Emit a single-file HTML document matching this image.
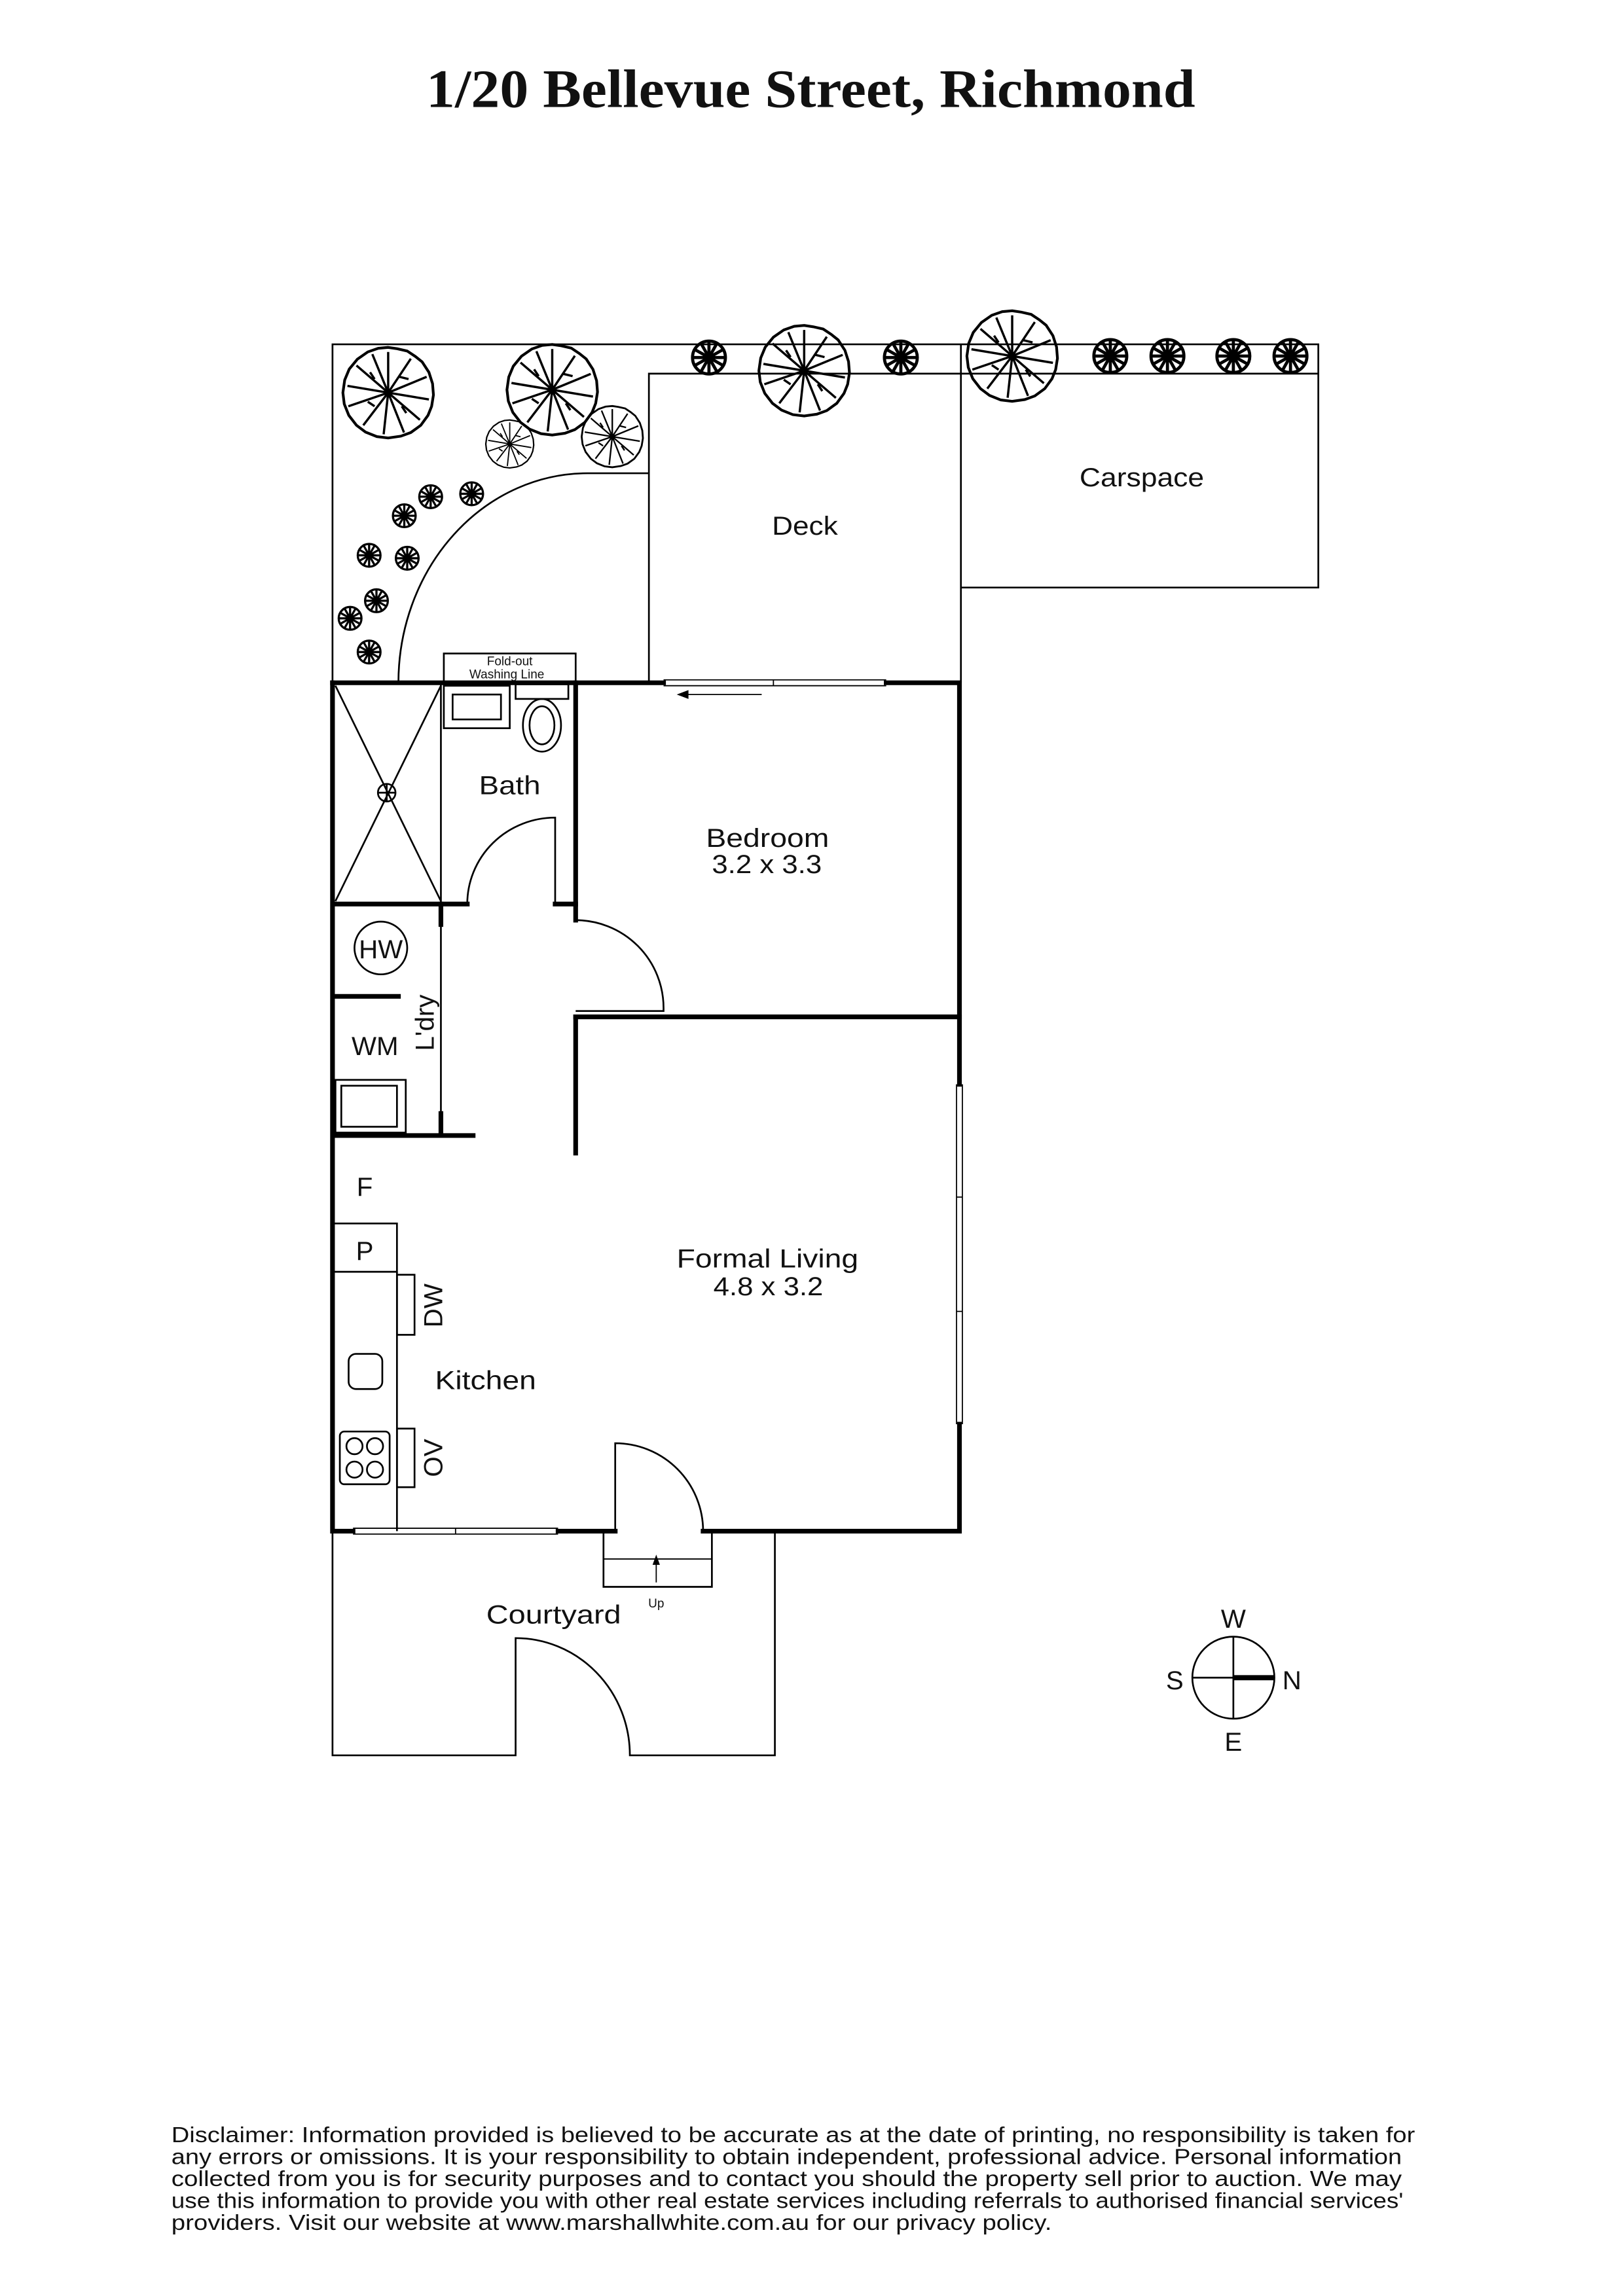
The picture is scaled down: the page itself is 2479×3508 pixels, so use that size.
<!DOCTYPE html>
<html><head><meta charset="utf-8"><style>
html,body{margin:0;padding:0;background:#fff;}
svg{display:block;}
text{font-family:"Liberation Sans",sans-serif;fill:#111;}
</style></head><body>
<svg width="2479" height="3508" viewBox="0 0 1108 1567" preserveAspectRatio="none" xmlns="http://www.w3.org/2000/svg">
<defs>
<symbol id="tr" viewBox="-1.1 -1.1 2.2 2.2">
<path d="M0,-1 L0.2,-0.97 0.42,-0.92 0.6,-0.8 0.75,-0.68 0.9,-0.45 0.98,-0.2 1,0.05 0.96,0.3 0.88,0.5 0.72,0.72 0.5,0.88 0.28,0.96 0,1 -0.25,0.97 -0.5,0.87 -0.7,0.72 -0.87,0.5 -0.97,0.25 -1,0 -0.96,-0.28 -0.86,-0.52 -0.68,-0.74 -0.45,-0.9 -0.22,-0.98Z" fill="none" stroke="#000" stroke-width="0.06"/>
<path d="M0,0 L0,-0.9 M0,0 L0.5,-0.75 M0,0 L0.85,-0.35 M0,0 L0.9,0.15 M0,0 L0.7,0.6 M0,0 L0.35,0.88 M0,0 L-0.1,0.92 M0,0 L-0.55,0.72 M0,0 L-0.88,0.3 M0,0 L-0.9,-0.15 M0,0 L-0.7,-0.6 M0,0 L-0.35,-0.85 M0.25,-0.35 L0.45,-0.3 M-0.3,0.3 L-0.45,0.2 M0.3,0.3 L0.4,0.45 M-0.3,-0.3 L-0.4,-0.45" fill="none" stroke="#000" stroke-width="0.05"/>
</symbol>
<symbol id="sh" viewBox="-1.1 -1.1 2.2 2.2">
<circle r="0.95" fill="none" stroke="#000" stroke-width="0.18"/>
<path d="M0,0 L0,-0.9 M0,0 L0.8,-0.45 M0,0 L0.8,0.45 M0,0 L0,0.9 M0,0 L-0.8,0.45 M0,0 L-0.8,-0.45 M0,0 L0.45,-0.8 M0,0 L0.9,0 M0,0 L0.45,0.8 M0,0 L-0.45,0.8 M0,0 L-0.9,0 M0,0 L-0.45,-0.8" stroke="#000" stroke-width="0.18"/>
</symbol>
</defs>

<text x="291" y="73" textLength="525" lengthAdjust="spacingAndGlyphs" font-weight="bold" font-size="37" style="font-family:'Liberation Serif',serif">1/20 Bellevue Street, Richmond</text>

<g fill="none" stroke="#000" stroke-width="1.2">
<path d="M227,466 V235 H900 V401 H656"/>
<path d="M443,466 V255 H900"/>
<path d="M656,235 V466"/>
<path d="M272,466 A129,143 0 0 1 401,323 H443"/>
<rect x="303" y="446" width="90" height="20"/>
<path d="M229,468 L301,615 M301,468 L229,615"/>
<circle cx="264" cy="541" r="6"/>
<path d="M258,541 H270 M264,535 V547"/>
<rect x="303" y="468" width="45" height="29"/>
<rect x="309" y="474" width="33" height="17"/>
<rect x="352" y="467" width="36" height="10"/>
<ellipse cx="370" cy="495" rx="13" ry="18"/>
<ellipse cx="370" cy="495" rx="8.5" ry="13"/>
<path d="M301,466 V775"/>
<path d="M379,617 V558 A60,59 0 0 0 319,617"/>
<circle cx="260" cy="647" r="18"/>
<rect x="229" y="737" width="48" height="36"/>
<rect x="233" y="741" width="38" height="28"/>
<path d="M393,628 A60,60 0 0 1 453,688 V690 H393"/>
<rect x="227" y="835" width="44" height="33"/>
<path d="M271,868 V1045"/>
<path d="M227,868 H271"/>
<rect x="271" y="870" width="12" height="41"/>
<rect x="271" y="975" width="12" height="40"/>
<rect x="238" y="924" width="23" height="24" rx="5"/>
<rect x="232" y="977" width="34" height="36" rx="3"/>
<circle cx="242" cy="987" r="5.5"/><circle cx="256" cy="987" r="5.5"/>
<circle cx="242" cy="1003" r="5.5"/><circle cx="256" cy="1003" r="5.5"/>
<path d="M420,1045 V985 A60,60 0 0 1 480,1045"/>
<path d="M412,1045 V1083 H486 V1045"/>
<path d="M412,1064 H486" stroke-width="0.8"/>
<path d="M227,1045 V1198 H352 V1118 A78,80 0 0 1 430,1198 H529 V1045"/>
<circle cx="842" cy="1145" r="28"/>
<path d="M842,1117 V1173 M814,1145 H842"/>
</g>
<path d="M842,1145 H870" stroke="#000" stroke-width="3.5"/>

<g fill="none" stroke="#000" stroke-width="3.2" stroke-linecap="square">
<path d="M227,466 V1045 H241"/>
<path d="M381,1045 H420"/>
<path d="M480,1045 H655 V972"/>
<path d="M655,740 V466 H605"/>
<path d="M453,466 H227"/>
<path d="M393,466 V617 H379"/>
<path d="M319,617 H229"/>
<path d="M393,617 V628"/>
<path d="M393,694 H655"/>
<path d="M393,694 V787"/>
<path d="M229,680 H272"/>
<path d="M229,775 H323"/>
<path d="M301,617 V631 M301,760 V775"/>
</g>
<g fill="none" stroke="#000" stroke-width="0.8">
<path d="M453,464 H605 M453,468 H605 M528,464 V468"/>
<path d="M241,1043 H381 M241,1047 H381 M311,1043 V1047"/>
<path d="M653,740 V972 M657,740 V972 M653,817 H657 M653,895 H657"/>
<path d="M520,474 H468"/>
<path d="M448,1080 V1064"/>
</g>
<path d="M462,474 L470,471 L470,477Z" fill="#000"/>
<path d="M448,1061 L445.5,1068 L450.5,1068Z" fill="#000"/>

<use href="#tr" x="231" y="234" width="68" height="68"/>
<use href="#tr" x="343" y="232" width="68" height="68"/>
<use href="#tr" x="330" y="285" width="36" height="36"/>
<use href="#tr" x="395" y="275" width="46" height="46"/>
<use href="#tr" x="515" y="219" width="68" height="68"/>
<use href="#tr" x="657" y="209" width="68" height="68"/>
<use href="#sh" x="471" y="231" width="26" height="26"/>
<use href="#sh" x="602" y="231" width="26" height="26"/>
<use href="#sh" x="745" y="230" width="26" height="26"/>
<use href="#sh" x="784" y="230" width="26" height="26"/>
<use href="#sh" x="829" y="230" width="26" height="26"/>
<use href="#sh" x="868" y="230" width="26" height="26"/>
<use href="#sh" x="313" y="328" width="18" height="18"/>
<use href="#sh" x="285" y="330" width="18" height="18"/>
<use href="#sh" x="267" y="343" width="18" height="18"/>
<use href="#sh" x="243" y="370" width="18" height="18"/>
<use href="#sh" x="269" y="372" width="18" height="18"/>
<use href="#sh" x="248" y="401" width="18" height="18"/>
<use href="#sh" x="230" y="413" width="18" height="18"/>
<use href="#sh" x="243" y="436" width="18" height="18"/>

<g font-size="18">
<text x="527" y="365" textLength="45" lengthAdjust="spacingAndGlyphs">Deck</text>
<text x="737" y="332" textLength="85" lengthAdjust="spacingAndGlyphs">Carspace</text>
<text x="327" y="542" textLength="42" lengthAdjust="spacingAndGlyphs">Bath</text>
<text x="482" y="578" textLength="84" lengthAdjust="spacingAndGlyphs">Bedroom</text>
<text x="486" y="596" textLength="75" lengthAdjust="spacingAndGlyphs">3.2 x 3.3</text>
<text x="462" y="865" textLength="124" lengthAdjust="spacingAndGlyphs">Formal Living</text>
<text x="487" y="884" textLength="75" lengthAdjust="spacingAndGlyphs">4.8 x 3.2</text>
<text x="297" y="948" textLength="69" lengthAdjust="spacingAndGlyphs">Kitchen</text>
<text x="332" y="1108" textLength="92" lengthAdjust="spacingAndGlyphs">Courtyard</text>
</g>
<g font-size="18" text-anchor="middle">
<text x="260" y="654">HW</text>
<text x="256" y="720">WM</text>
<text x="249" y="816">F</text>
<text x="249" y="860">P</text>
<text x="842" y="1111">W</text>
<text x="802" y="1153">S</text>
<text x="882" y="1153">N</text>
<text x="842" y="1195">E</text>
<text transform="translate(296,698) rotate(-90)">L'dry</text>
<text transform="translate(302,891) rotate(-90)">DW</text>
<text transform="translate(302,995) rotate(-90)">OV</text>
</g>
<g font-size="8.5" text-anchor="middle">
<text x="348" y="454">Fold-out</text>
<text x="346" y="463">Washing Line</text>
<text x="448" y="1097">Up</text>
</g>

<g font-size="15">
<text x="117" y="1462" textLength="849" lengthAdjust="spacingAndGlyphs">Disclaimer: Information provided is believed to be accurate as at the date of printing, no responsibility is taken for</text>
<text x="117" y="1477" textLength="840" lengthAdjust="spacingAndGlyphs">any errors or omissions. It is your responsibility to obtain independent, professional advice. Personal information</text>
<text x="117" y="1492" textLength="840" lengthAdjust="spacingAndGlyphs">collected from you is for security purposes and to contact you should the property sell prior to auction. We may</text>
<text x="117" y="1507" textLength="841" lengthAdjust="spacingAndGlyphs">use this information to provide you with other real estate services including referrals to authorised financial services'</text>
<text x="117" y="1522" textLength="601" lengthAdjust="spacingAndGlyphs">providers. Visit our website at www.marshallwhite.com.au for our privacy policy.</text>
</g>
</svg>
</body></html>
